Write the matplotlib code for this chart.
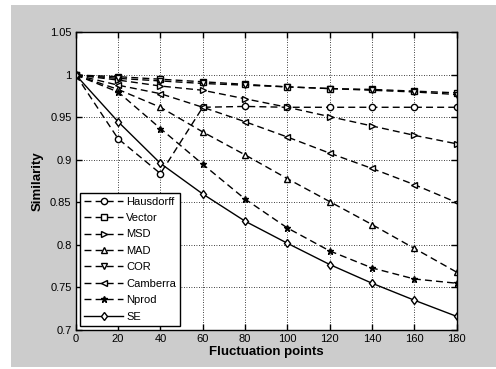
import matplotlib
matplotlib.use('Agg')
import matplotlib.pyplot as plt
from matplotlib.patches import Rectangle

plt.rcParams['font.family'] = ['Liberation Sans', 'DejaVu Sans']

# Data
x = [0, 20, 40, 60, 80, 100, 120, 140, 160, 180]
hausdorff = [1, 0.925, 0.884, 0.962, 0.963, 0.962, 0.962, 0.962, 0.962, 0.962]
vector = [1, 0.998, 0.995, 0.992, 0.989, 0.986, 0.984, 0.983, 0.981, 0.979]
msd = [1, 0.994, 0.987, 0.982, 0.972, 0.962, 0.951, 0.940, 0.929, 0.919]
mad = [1, 0.983, 0.962, 0.933, 0.906, 0.878, 0.851, 0.824, 0.796, 0.768]
cor = [1, 0.996, 0.993, 0.990, 0.988, 0.986, 0.984, 0.982, 0.980, 0.977]
camberra = [1, 0.988, 0.978, 0.962, 0.945, 0.927, 0.908, 0.890, 0.871, 0.850]
nprod = [1, 0.980, 0.937, 0.895, 0.854, 0.820, 0.793, 0.773, 0.760, 0.755]
se = [1, 0.945, 0.896, 0.860, 0.828, 0.802, 0.777, 0.755, 0.735, 0.716]

names = ['Hausdorff', 'Vector', 'MSD', 'MAD', 'COR', 'Camberra', 'Nprod', 'SE']
series = [hausdorff, vector, msd, mad, cor, camberra, nprod, se]
markers = ['o', 's', '>', '^', 'v', '<', '*', 'd']

fig = plt.figure(figsize=(4.96, 3.69), dpi=100, facecolor='white')
# grey MATLAB-like figure background
fig.patches.append(Rectangle((11 / 496, 2 / 369), 485 / 496, 362 / 369,
                             transform=fig.transFigure, facecolor='#cccccc',
                             edgecolor='none', zorder=-10))
ax = fig.add_axes([0.1528, 0.1057, 0.768, 0.8063])

for name, ys, m in zip(names, series, markers):
    ls = '-' if name == 'SE' else (0, (5, 3))
    ax.plot(x, ys, color='black', linestyle=ls, linewidth=1.0, marker=m,
            markersize=4.5, markerfacecolor='white' if m != '*' else 'black',
            markeredgecolor='black', markeredgewidth=1.0, label=name)

ax.set_xlim(0, 180)
ax.set_ylim(0.7, 1.05)
ax.set_xticks(range(0, 181, 20))
ax.set_yticks([0.7, 0.75, 0.8, 0.85, 0.9, 0.95, 1.0, 1.05])
ax.set_yticklabels(['0.7', '0.75', '0.8', '0.85', '0.9', '0.95', '1', '1.05'])
ax.tick_params(direction='in', top=True, right=True, length=4, width=1,
               labelsize=8, pad=3)
ax.grid(True, linestyle=(0, (1, 2)), color='black', linewidth=0.6)
for s in ax.spines.values():
    s.set_linewidth(1.0)

ax.set_xlabel('Fluctuation points', fontsize=9.5, fontweight='bold', labelpad=1)
ax.set_ylabel('Similarity', fontsize=9.5, fontweight='bold', labelpad=5)

leg = ax.legend(loc='lower left', fontsize=8, frameon=True, fancybox=False,
                edgecolor='black', framealpha=1, borderpad=0.35, labelspacing=0.58,
                handlelength=3.5, handletextpad=0.3, borderaxespad=0.4)
leg.get_frame().set_linewidth(1.0)

fig.savefig('out.png', dpi=100, facecolor=fig.get_facecolor())
